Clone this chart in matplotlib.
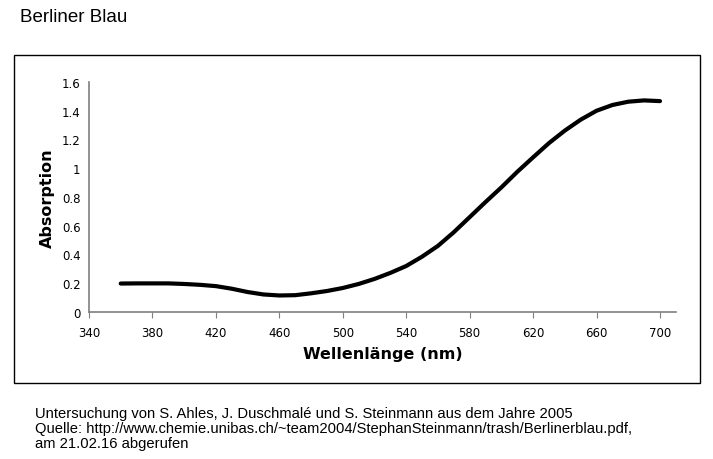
import numpy as np
import matplotlib.pyplot as plt
from matplotlib.patches import Rectangle

# Absorptionsspektrum Berliner Blau
wellenlaenge = [360, 370, 380, 390, 400, 410, 420, 430, 440, 450, 460, 470, 480,
                490, 500, 510, 520, 530, 540, 550, 560, 570, 580, 590, 600, 610,
                620, 630, 640, 650, 660, 670, 680, 690, 700]
absorption = [0.198, 0.199, 0.199, 0.199, 0.195, 0.189, 0.180, 0.162, 0.139, 0.122,
              0.115, 0.117, 0.130, 0.146, 0.167, 0.195, 0.230, 0.272, 0.320, 0.385,
              0.460, 0.555, 0.660, 0.765, 0.867, 0.975, 1.076, 1.175, 1.262, 1.338,
              1.400, 1.440, 1.463, 1.472, 1.467]

x_ticks = [340, 380, 420, 460, 500, 540, 580, 620, 660, 700]
y_ticks = [0, 0.2, 0.4, 0.6, 0.8, 1, 1.2, 1.4, 1.6]
y_labels = ["0", "0.2", "0.4", "0.6", "0.8", "1", "1.2", "1.4", "1.6"]

fig = plt.figure(figsize=(7.13, 4.6), dpi=100)
W, H = 713, 460

# Rahmen um das Diagramm
fig.patches.append(Rectangle((14 / W, 1 - 384 / H), (700 - 14) / W, (384 - 56) / H,
                             transform=fig.transFigure, fill=False,
                             edgecolor="black", linewidth=1.0))

ax = fig.add_axes([89 / W, 1 - 313 / H, (676 - 89) / W, (313 - 83) / H])
ax.plot(wellenlaenge, absorption, color="black", linewidth=3,
        solid_capstyle="round", solid_joinstyle="round")

ax.set_xlim(340, 340 + 360 * (676 - 89) / (660 - 89))
ax.set_ylim(0, 1.6)
ax.set_xticks(x_ticks)
ax.set_yticks(y_ticks)
ax.set_yticklabels(y_labels)

for side in ["top", "right"]:
    ax.spines[side].set_visible(False)
for side in ["left", "bottom"]:
    ax.spines[side].set_color("#7f7f7f")
    ax.spines[side].set_linewidth(1.2)
ax.tick_params(axis="both", direction="out", length=4, color="#7f7f7f",
               labelsize=8.5)
ax.tick_params(axis="x", pad=6)
ax.tick_params(axis="y", length=0, pad=6)

ax.set_xlabel("Wellenlänge (nm)", fontsize=11.5, fontweight="bold", labelpad=5)
ax.set_ylabel("Absorption", fontsize=11.5, fontweight="bold", labelpad=5)

fig.text(20 / W, 1 - 18 / H, "Berliner Blau", fontsize=13.5,
         family="Liberation Sans", va="center", ha="left")

fig.text(35 / W, 1 - 407 / H,
         "Untersuchung von S. Ahles, J. Duschmalé und S. Steinmann aus dem Jahre 2005\n"
         "Quelle: http://www.chemie.unibas.ch/~team2004/StephanSteinmann/trash/Berlinerblau.pdf,\n"
         "am 21.02.16 abgerufen",
         fontsize=10.6, family="Liberation Sans", va="top", ha="left", linespacing=1.08)

fig.savefig("out.png", dpi=100)
